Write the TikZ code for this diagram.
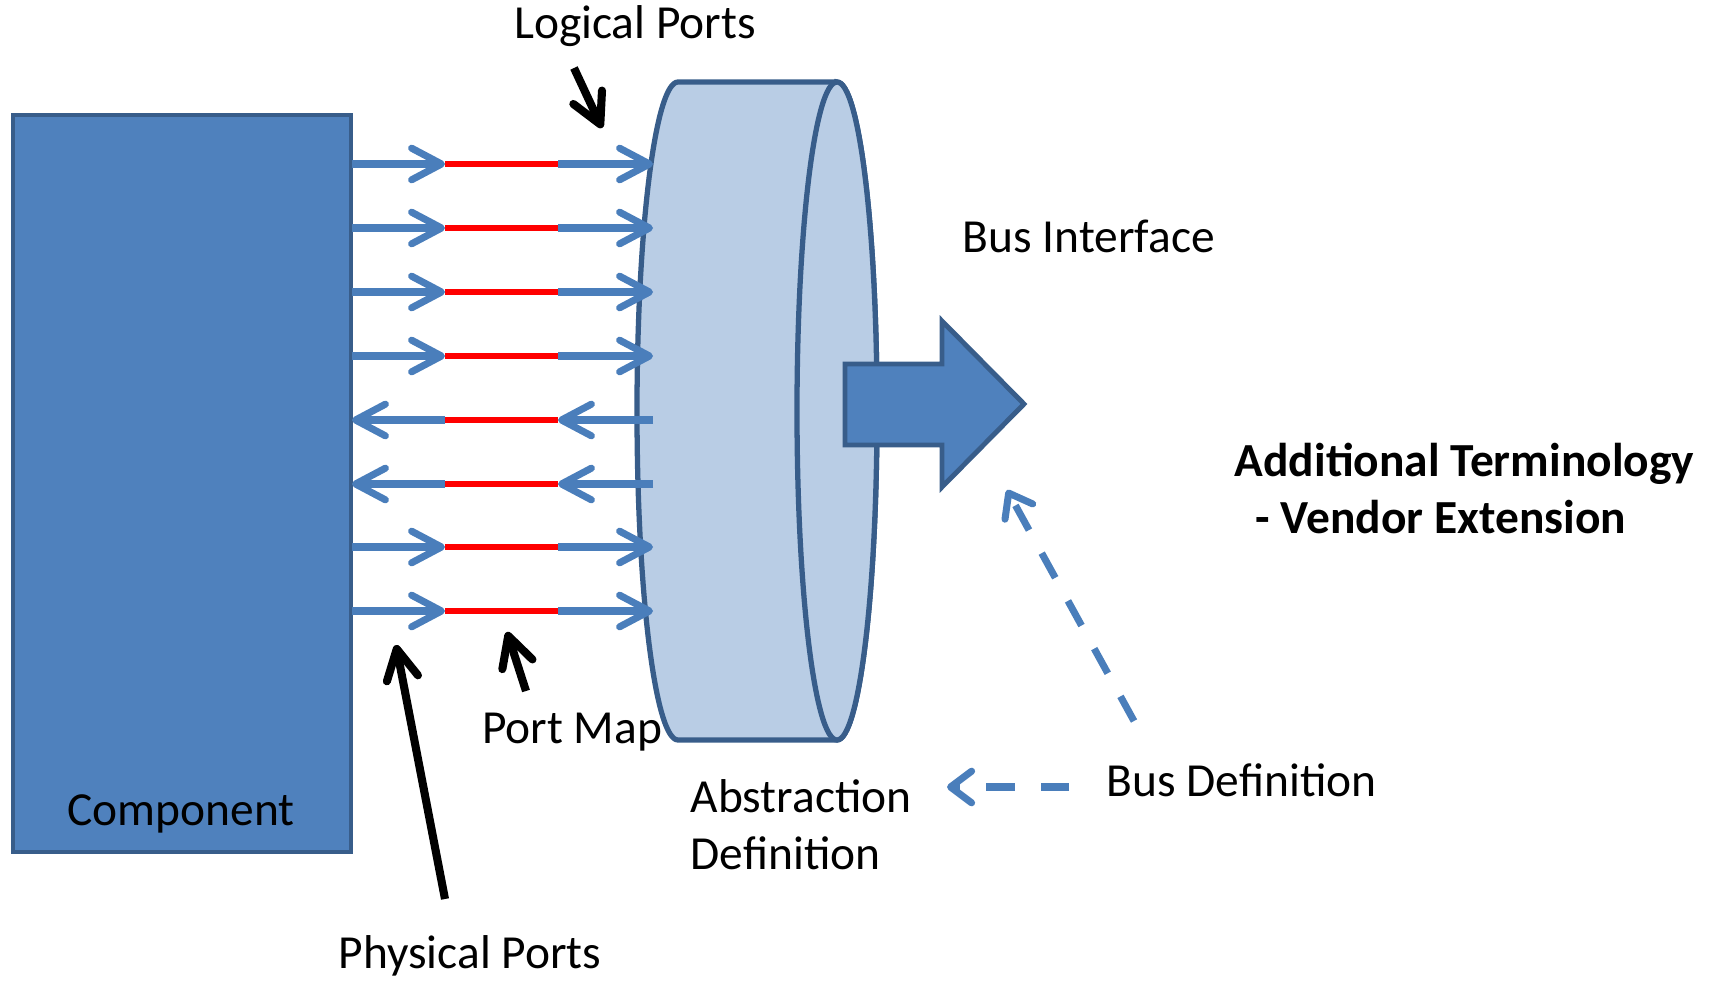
\documentclass[tikz,border=0pt]{standalone}
\usepackage{fontspec}
\setmainfont{Carlito}
\usetikzlibrary{arrows.meta}

\definecolor{compblue}{HTML}{4F81BD}
\definecolor{edgeblue}{HTML}{385D8A}
\definecolor{cylblue}{HTML}{B9CDE5}
\definecolor{portblue}{HTML}{4A7EBB}
\definecolor{mapred}{HTML}{FF0000}

\tikzset{
  barb/.tip={Straight Barb[length=8.5pt,width=9pt,round]},
  smallbarb/.tip={Straight Barb[length=6pt,width=9pt,round]},
  compbox/.style={draw=edgeblue,fill=compblue,line width=1.3pt,inner sep=0pt},
  cylbody/.style={draw=edgeblue,fill=cylblue,line width=1.5pt},
  port/.style={portblue,line width=2pt,-{barb}},
  pmap/.style={mapred,line width=1.5pt},
  callout/.style={black,line width=2.3pt,-{barb}},
  defarrow/.style={portblue,line width=2pt,dash pattern=on 8pt off 7.5pt,-{smallbarb}},
  lbl/.style={inner sep=0pt,text=black}
}

\begin{document}
\begin{tikzpicture}[x=1cm,y=-1cm,font=\fontsize{13.5}{16.2}\selectfont]
	\useasboundingbox (0,0) rectangle (17.14,9.81);

	% component
	\node[compbox,minimum width=3.38cm,minimum height=7.37cm] (comp) at (1.82,4.835) {};
	\node[lbl] (complbl) at (1.81,8.14) {Component};

	% bus interface
	\draw[cylbody] (8.37,0.82) -- (6.78,0.82)
		arc[start angle=90,end angle=270,x radius=0.41cm,y radius=3.29cm]
		-- (8.37,7.40)
		arc[start angle=270,end angle=450,x radius=0.40cm,y radius=3.29cm] -- cycle;
	\draw[cylbody] (8.37,4.11) ellipse[x radius=0.40cm,y radius=3.29cm];
	\fill[compblue,draw=edgeblue,line width=1.4pt] (8.45,3.64) -- (9.42,3.64) -- (9.42,3.21)
		-- (10.24,4.04) -- (9.42,4.87) -- (9.42,4.45) -- (8.45,4.45) -- cycle;
	\node[lbl,anchor=west] (busif) at (9.62,2.36) {Bus Interface};

	% ports and port maps
	\foreach \i/\y in {1/1.64,2/2.28,3/2.92,4/3.56,5/4.20,6/4.84,7/5.47,8/6.11} {
		\coordinate (phys\i) at (3.52,\y);
		\coordinate (mapa\i) at (4.45,\y);
		\coordinate (mapb\i) at (5.58,\y);
		\coordinate (log\i) at (6.53,\y);
		\draw[pmap] (mapa\i) -- (mapb\i);
	}
	\foreach \i in {1,2,3,4,7,8} {
		\draw[port] (phys\i) -- (mapa\i);
		\draw[port] (mapb\i) -- (log\i);
	}
	\foreach \i in {5,6} {
		\draw[port] (mapa\i) -- (phys\i);
		\draw[port] (log\i) -- (mapb\i);
	}

	% labels with pointers
	\node[lbl] (logtxt) at (6.35,0.26) {Logical Ports};
	\coordinate (logtail) at (5.74,0.68);
	\coordinate (logtip) at (6.02,1.28);
	\draw[callout] (logtail) -- (logtip);

	\node[lbl] (maptxt) at (5.72,7.32) {Port Map};
	\coordinate (maptail) at (5.26,6.91);
	\coordinate (maptip) at (5.07,6.32);
	\draw[callout] (maptail) -- (maptip);

	\node[lbl] (phystxt) at (4.70,9.56) {Physical Ports};
	\coordinate (physptail) at (4.45,8.99);
	\coordinate (physptip) at (3.96,6.45);
	\draw[callout] (physptail) -- (physptip);

	% definitions
	\node[lbl,anchor=west,align=left] (absdef) at (6.90,8.25) {Abstraction\\Definition};
	\node[lbl,anchor=west] (busdef) at (11.06,7.80) {Bus Definition};
	\coordinate (abstail) at (10.69,7.87);
	\coordinate (abstip) at (9.47,7.87);
	\draw[defarrow] (abstail) -- (abstip);
	\coordinate (iftail) at (11.34,7.21);
	\coordinate (iftip) at (10.07,4.90);
	\draw[defarrow] (iftail) -- (iftip);

	\node[lbl,anchor=west,align=left,font=\fontsize{13.5}{16.2}\selectfont\bfseries] (extra) at (12.34,4.885)
		{Additional Terminology\\\hspace*{0.21cm}- Vendor Extension};
\end{tikzpicture}
\end{document}
